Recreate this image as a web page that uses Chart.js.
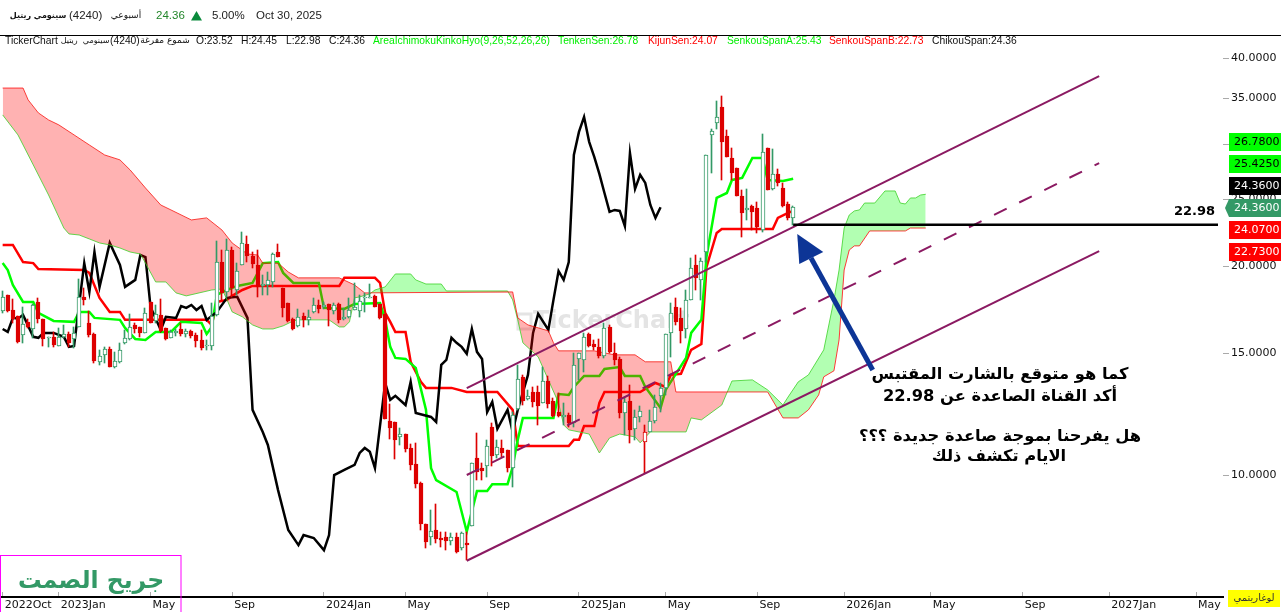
<!DOCTYPE html>
<html lang="ar">
<head>
<meta charset="UTF-8">
<title>TickerChart 4240</title>
<script src="https://cdn.jsdelivr.net/npm/chart.js"></script>
<style>
    html, body { margin: 0; padding: 0; background: #fff; overflow: hidden; }
    canvas { display: block; }
</style>
</head>
<body>
<canvas id="chart" width="1281" height="612"></canvas>
<script>
// weekly candles, one entry per bar
const opens = [17.25,18.20,17.31,16.97,15.93,16.64,16.25,17.78,16.81,15.78,15.83,15.36,15.83,15.98,15.72,16.36,18.08,16.58,15.98,14.57,14.91,15.21,14.32,14.57,15.52,15.72,16.47,16.36,16.04,17.78,16.69,17.03,16.31,15.78,16.04,16.25,15.98,16.15,15.93,15.67,15.36,15.36,17.03,20.30,18.38,21.13,18.50,20.10,21.56,20.71,20.10,18.75,18.81,19.00,20.99,18.62,17.72,16.81,16.42,16.97,16.75,17.20,17.60,17.48,17.66,17.25,17.66,16.81,16.92,17.31,17.25,18.02,18.02,18.14,17.66,17.09,11.97,11.93,11.35,11.46,10.94,10.37,9.74,8.50,8.14,8.33,8.11,8.14,8.03,8.14,7.84,7.97,8.44,10.58,10.23,10.30,11.73,10.69,10.94,10.87,10.23,12.46,13.86,12.88,13.18,13.18,12.71,13.67,12.79,12.33,12.13,12.21,11.89,14.71,14.66,15.98,15.46,15.31,14.86,16.36,15.01,14.71,12.29,12.79,11.66,12.13,11.16,11.54,11.97,13.01,13.36,16.04,17.48,16.86,16.25,17.90,20.10,19.13,20.99,30.98,32.25,34.00,30.88,28.70,27.75,25.29,24.14,24.46,24.30,22.58,29.66,25.89,27.21,25.97,24.62,23.52];
const highs = [18.44,18.20,17.96,16.97,17.48,16.81,17.66,18.02,16.81,15.83,16.09,16.31,16.47,16.09,16.36,19.19,18.62,17.25,16.04,15.16,15.31,15.31,15.06,15.52,16.20,17.09,16.58,16.36,17.43,17.78,17.60,17.96,16.31,16.20,16.25,16.58,16.25,16.20,16.04,16.20,15.67,17.72,21.78,21.13,21.92,21.35,20.23,22.43,22.14,20.99,21.13,19.45,19.64,20.92,21.56,18.62,17.72,16.86,17.37,17.14,17.31,18.02,17.90,17.78,17.66,17.72,17.72,17.43,18.02,18.94,18.20,18.32,18.87,18.20,17.66,17.09,12.67,11.93,11.70,11.46,11.09,11.13,9.77,8.50,8.90,9.08,8.28,8.28,8.25,8.25,8.28,8.28,10.41,11.50,10.41,11.24,11.89,11.24,11.24,10.87,12.33,14.42,13.95,13.27,13.40,13.45,14.32,13.90,12.92,13.14,12.71,12.29,15.01,15.01,16.04,16.04,15.67,15.72,16.58,16.47,15.52,14.81,12.96,13.49,12.42,12.58,11.81,12.42,13.05,13.58,15.98,17.72,18.02,17.43,18.50,20.57,20.78,20.57,28.98,31.60,34.68,35.27,31.50,29.66,27.75,25.80,25.89,24.54,24.78,31.08,29.66,29.57,27.66,26.41,24.78,24.45];
const lows = [17.14,17.20,16.58,15.52,15.52,16.31,15.78,16.58,15.36,15.31,15.31,15.36,15.78,15.31,15.26,16.36,17.60,15.83,14.52,14.42,14.52,14.32,14.28,14.52,15.46,15.67,16.04,15.83,16.04,16.58,16.58,16.09,15.67,15.78,15.88,15.88,15.83,15.78,15.31,15.16,15.16,15.16,16.97,17.90,18.08,18.08,18.20,20.10,20.30,19.90,18.08,18.20,18.20,18.69,20.64,16.92,16.64,16.20,16.36,16.36,16.47,17.14,17.14,17.37,16.42,17.09,16.58,16.75,16.86,17.31,16.92,17.20,18.02,17.48,16.81,12.05,11.28,10.55,11.05,10.80,10.17,9.57,8.33,7.84,7.92,7.97,7.87,7.79,7.92,7.71,7.79,7.54,8.44,9.83,9.83,9.93,10.30,10.58,10.62,10.10,9.60,12.42,12.62,12.84,12.54,11.81,12.71,12.50,12.13,12.13,11.81,11.73,11.73,13.72,14.09,15.31,15.16,14.76,14.76,15.01,14.42,12.09,11.42,11.13,11.24,11.93,10.07,11.54,11.89,12.33,13.05,14.81,16.47,15.52,15.78,17.90,18.50,17.90,20.30,27.30,31.60,26.67,28.79,26.67,25.29,22.06,23.35,22.58,22.36,22.43,25.80,25.80,26.14,24.38,23.35,22.98];
const closes = [18.08,17.25,16.81,15.57,16.53,16.36,17.60,16.81,15.72,15.83,15.41,15.83,15.98,15.52,16.04,18.08,17.90,15.93,14.61,14.86,15.21,14.32,14.61,15.16,15.78,16.36,16.25,16.04,17.14,16.58,17.09,16.15,15.72,16.09,16.15,15.98,16.15,15.88,15.62,15.26,15.41,16.97,20.30,18.32,21.13,18.62,19.70,21.63,20.71,20.17,18.69,18.87,19.13,20.85,20.64,17.43,16.69,16.25,16.92,16.75,16.92,17.60,17.37,17.60,17.31,17.60,16.75,16.92,17.31,17.48,17.84,18.08,18.08,17.48,16.86,12.05,11.70,11.24,11.46,10.90,10.34,9.70,8.50,8.00,8.30,8.08,8.06,8.03,8.14,7.74,8.25,7.92,10.41,10.10,10.13,11.01,10.65,10.98,10.76,10.23,12.21,13.77,12.79,13.01,12.75,12.58,13.67,12.67,12.17,12.17,12.21,11.89,14.42,15.01,15.83,15.36,15.31,14.86,16.31,15.06,14.66,12.29,12.75,11.62,12.13,12.37,11.54,11.97,12.54,13.36,15.98,17.14,16.64,16.15,17.90,19.90,19.26,20.37,28.98,31.40,32.89,30.27,28.79,27.30,25.29,23.90,24.30,23.98,22.81,29.27,25.80,27.21,26.41,24.46,23.51,24.36];
const hollowRedBars = [126];

const tenkanBars = [0,1,2,4,6,7,10,14,15,17,18,23,24,26,28,30,33,35,39,40,41,42,44,46,49,51,54,55,57,62,63,67,69,74,75,76,77,79,81,83,84,85,89,91,93,95,96,99,100,101,102,108,109,111,112,114,117,118,121,122,125,126,129,130,134,135,137,138,140,142,143,145,147,149,150,153,155];
const tenkanValues = [20.23,19.77,18.81,17.78,17.78,17.14,16.69,16.64,17.20,17.20,16.86,16.75,16.31,15.72,15.67,16.09,16.09,16.64,16.58,15.98,16.36,18.20,18.50,18.75,18.94,20.23,20.30,19.58,18.94,18.94,17.43,17.37,17.66,17.72,16.75,15.31,14.76,14.71,14.28,12.42,10.23,9.83,9.45,8.28,9.48,9.48,9.70,9.70,10.27,11.24,12.09,12.09,13.09,13.05,13.40,13.90,13.90,14.23,14.32,13.90,13.90,13.40,12.50,13.27,14.76,16.04,16.75,20.64,25.12,25.54,26.67,26.85,28.70,28.70,26.67,26.58,26.78];

const kijunBars = [0,2,4,6,7,16,17,19,21,23,24,40,41,42,44,45,47,49,66,67,73,74,75,76,77,79,80,82,83,88,91,97,100,101,111,112,113,114,116,117,118,125,128,130,131,133,135,137,138,140,141,151,152,154,155];
const kijunValues = [21.49,21.49,20.30,20.23,19.83,19.77,19.58,18.02,17.20,17.20,16.75,16.75,16.47,17.78,17.90,18.14,18.50,18.75,18.75,19.26,19.26,18.94,17.14,16.64,16.09,16.09,14.57,13.63,13.36,13.36,13.18,13.18,12.42,11.01,11.01,11.24,11.24,11.77,11.77,12.71,13.18,13.18,13.58,13.40,13.95,14.00,15.16,15.46,19.96,22.36,22.66,22.66,23.51,23.90,24.07];

const chikouBars = [0,1,2,3,4,6,7,8,10,12,13,14,16,17,18,19,21,23,24,26,27,28,29,31,32,34,35,36,37,38,39,40,42,44,46,48,49,51,52,54,56,58,59,61,63,64,65,67,69,70,71,72,73,75,76,77,79,80,81,84,85,86,87,88,89,90,91,92,93,94,95,96,97,99,100,101,103,104,105,107,108,109,110,111,112,113,114,115,116,117,118,119,120,121,122,123,124,125,126,127,128,129];
const chikouValues = [16.25,16.09,16.86,16.81,17.03,15.83,15.78,16.04,16.04,15.83,15.31,15.36,20.23,18.38,20.99,18.69,21.63,20.10,18.69,19.13,20.78,20.64,17.48,16.20,16.92,16.86,17.54,17.43,17.60,17.31,17.54,16.75,17.20,18.02,18.08,16.86,12.42,11.54,11.05,9.51,8.33,7.92,8.19,8.11,7.79,8.19,10.00,10.17,10.34,10.76,10.94,10.80,10.23,13.58,12.84,13.01,12.62,13.63,12.29,12.13,11.93,14.42,14.66,15.78,15.52,15.31,14.96,16.25,15.06,14.71,12.33,12.75,11.66,12.42,11.54,12.42,13.95,16.04,17.09,16.20,17.90,19.70,19.13,20.30,28.98,31.29,32.89,30.27,28.79,27.21,25.54,23.98,24.14,24.06,22.88,29.17,25.89,27.12,26.41,24.54,23.51,24.36];

const senkouABars = [0,3,6,9,12,13,15,17,19,21,23,25,27,28,30,32,34,36,41,43,44,45,47,49,51,53,55,57,58,64,66,67,68,69,70,72,73,75,77,80,81,83,86,87,99,100,101,102,105,107,109,110,111,115,117,119,121,124,125,127,134,135,137,141,143,147,150,153,154,156,158,161,163,164,165,166,167,168,169,171,173,175,176,177,178,179,180,181];
const senkouAValues = [33.11,30.98,28.04,25.37,22.73,22.29,22.21,21.92,21.63,21.49,21.27,20.99,20.85,20.23,19.00,19.00,18.32,18.14,18.50,18.56,17.90,17.20,16.92,16.47,16.25,16.25,16.42,16.69,16.75,16.75,16.36,16.36,16.64,18.02,18.08,18.26,18.50,18.69,19.51,19.51,19.13,18.87,18.87,18.44,18.44,17.90,16.75,15.52,14.81,13.72,12.71,11.81,11.62,11.46,10.76,11.31,11.46,11.35,11.13,11.54,11.54,12.09,12.01,12.62,13.67,13.72,13.27,12.62,12.96,13.63,13.95,15.16,17.90,19.77,22.73,23.74,24.06,24.14,24.70,24.70,25.71,25.71,24.70,24.62,25.12,25.12,25.37,25.43];

const senkouBBars = [0,4,5,7,9,11,14,17,20,23,25,28,31,33,37,40,43,45,48,50,51,54,56,58,66,69,71,100,101,103,105,107,108,109,116,120,124,126,131,132,150,153,156,158,160,161,163,164,165,166,167,168,170,177,178,181];
const senkouBValues = [36.20,36.20,34.80,33.33,32.56,32.03,30.98,29.96,28.98,28.51,27.57,25.97,24.54,24.14,23.35,23.51,22.58,21.63,20.85,20.78,20.23,20.23,19.64,19.26,19.26,18.81,18.32,18.38,16.86,16.47,16.31,16.15,15.52,15.11,15.11,14.91,14.91,14.57,14.57,13.18,13.18,12.09,12.09,12.42,13.05,13.86,14.14,15.67,19.77,21.13,21.42,21.42,22.51,22.51,22.73,22.73];

// channel drawn by the author
const channelBars = [91, 215];
const channelUpper = [13.35, 37.67];
const channelMiddle = [10.00, 28.21];
const channelLower = [7.52, 21.05];
const supportBars = [155, 238.3];
const supportValues = [22.98, 22.98];
const arrowBars = [170.6, 158.5];
const arrowValues = [14.18, 20.57];
const arrowHeadBars = [155.8, 160.9, 156.2];
const arrowHeadValues = [22.28, 20.99, 20.17];

// axes
const xTickBars = [0,11,29,45,63,79,95,113,130,148,165,182,200,217,234];
const xTickLabels = ['2022Oct','2023Jan','May','Sep','2024Jan','May','Sep','2025Jan','May','Sep','2026Jan','May','Sep','2027Jan','May'];
const yTickValues = [40,35,30,25,20,15,10];

const GREEN = '#339966';
const RED = '#dd0000';

function pairs(bars, values) {
    return bars.map((b, i) => ({ x: b, y: values[i] }));
}
function line(label, bars, values, color, width, order, extra) {
    return Object.assign({
        type: 'line', label, data: pairs(bars, values), borderColor: color, borderWidth: width,
        pointRadius: 0, tension: 0, fill: false, order
    }, extra || {});
}

const isUp = closes.map((c, i) => c >= opens[i]);
const barColor = isUp.map((up, i) => (up && !hollowRedBars.includes(i)) ? GREEN : RED);
const bodyFill = isUp.map((up, i) => up ? '#ffffff' : RED);

const datasets = [
    line('tenkan', tenkanBars, tenkanValues, '#00ff00', 2.5, 12),
    line('kijun', kijunBars, kijunValues, '#ff0000', 2.5, 12),
    line('chikou', chikouBars, chikouValues, '#000000', 2.5, 11),
    line('senkouB', senkouBBars, senkouBValues, 'rgba(255,0,0,0.75)', 1, 10),
    line('senkouA', senkouABars, senkouAValues, 'rgba(60,210,40,0.8)', 1, 10, {
        fill: { target: 3, above: 'rgba(0,255,0,0.3)', below: 'rgba(255,0,0,0.3)' }
    }),
    {
        type: 'bar', label: 'wicks', order: 6, barThickness: 1, barPercentage: 1, grouped: false,
        data: highs.map((h, i) => ({ x: i, y: [lows[i], h] })),
        backgroundColor: barColor, borderWidth: 0
    },
    {
        type: 'bar', label: 'bodies', order: 5, barThickness: 4, barPercentage: 1, grouped: false, borderSkipped: false,
        data: opens.map((o, i) => ({ x: i, y: [o, closes[i]] })),
        backgroundColor: bodyFill, borderColor: barColor, borderWidth: 1
    },
    line('upper', channelBars, channelUpper, '#8b1a62', 2, 3),
    line('middle', channelBars, channelMiddle, '#8b1a62', 2, 3, { borderDash: [14, 14] }),
    line('lower', channelBars, channelLower, '#8b1a62', 2, 3),
    line('support', supportBars, supportValues, '#000000', 2.5, 2),
    line('arrow', arrowBars, arrowValues, '#0d3596', 5, 1)
];

function text(ctx, str, x, y, font, color, align, dir) {
    ctx.font = font;
    ctx.fillStyle = color;
    ctx.textAlign = align || 'left';
    ctx.direction = dir || 'ltr';
    ctx.textBaseline = 'middle';
    ctx.fillText(str, x, y);
}

// candles sit on whole pixels so the thin wicks stay crisp
const snapCandles = {
    id: 'snapCandles',
    afterDatasetsUpdate(chart) {
        chart.data.datasets.forEach((ds, i) => {
            if (ds.type !== 'bar') return;
            chart.getDatasetMeta(i).data.forEach(el => {
                const c = Math.round(el.x);
                el.x = ds.label === 'wicks' ? c - 0.5 : c;
                el.y = Math.round(el.y);
                el.base = Math.round(el.base);
            });
        });
    }
};

// faint logo behind the candles
const watermark = {
    id: 'watermark',
    beforeDatasetsDraw(chart) {
        const ctx = chart.ctx;
        ctx.save();
        ctx.strokeStyle = '#e4e4e4';
        ctx.lineWidth = 3;
        ctx.strokeRect(518, 314, 13, 15);
        text(ctx, 'TickerChart', 533, 322, 'bold 24px "DejaVu Sans"', '#e4e4e4');
        ctx.restore();
    }
};

// header, price boxes and the notes on the chart
const overlay = {
    id: 'overlay',
    afterDraw(chart) {
        const ctx = chart.ctx;
        const xs = chart.scales.x, ys = chart.scales.y;
        ctx.save();

        // arrow head
        ctx.fillStyle = '#0d3596';
        ctx.beginPath();
        arrowHeadBars.forEach((b, i) => {
            ctx.lineTo(xs.getPixelForValue(b), ys.getPixelForValue(arrowHeadValues[i]));
        });
        ctx.closePath();
        ctx.fill();

        // top lines
        ctx.fillStyle = '#000';
        ctx.fillRect(0, 35, 1281, 1);

        const small = '11.5px "Liberation Sans"';
        text(ctx, 'سينومي ريتيل', 38, 16, 'bold 8px "DejaVu Sans"', '#111', 'center', 'rtl');
        text(ctx, '(4240)', 69, 16, small, '#222');
        text(ctx, 'أسبوعي', 126, 16, '9px "DejaVu Sans"', '#111', 'center', 'rtl');
        text(ctx, '24.36', 156, 16, small, '#22862a');
        ctx.fillStyle = '#0a8a3c';
        ctx.beginPath();
        ctx.moveTo(196.5, 11); ctx.lineTo(202, 20.5); ctx.lineTo(191, 20.5);
        ctx.closePath();
        ctx.fill();
        text(ctx, '5.00%', 212, 16, small, '#222');
        text(ctx, 'Oct 30, 2025', 256, 16, small, '#222');

        const leg = '10.3px "Liberation Sans"';
        text(ctx, 'TickerChart', 5, 41, leg, '#111');
        text(ctx, 'سينومي  ريتيل', 85, 41, '8px "DejaVu Sans"', '#111', 'center', 'rtl');
        text(ctx, '(4240)', 110, 41, leg, '#111');
        text(ctx, 'شموع مفرغة', 165, 41, '9px "DejaVu Sans"', '#111', 'center', 'rtl');
        text(ctx, 'O:23.52', 196, 41, leg, '#111');
        text(ctx, 'H:24.45', 241, 41, leg, '#111');
        text(ctx, 'L:22.98', 286, 41, leg, '#111');
        text(ctx, 'C:24.36', 329, 41, leg, '#111');
        text(ctx, 'AreaIchimokuKinkoHyo(9,26,52,26,26)', 373, 41, leg, '#00ee00');
        text(ctx, 'TenkenSen:26.78', 558, 41, leg, '#00ee00');
        text(ctx, 'KijunSen:24.07', 648, 41, leg, '#ff0000');
        text(ctx, 'SenkouSpanA:25.43', 727, 41, leg, '#00ee00');
        text(ctx, 'SenkouSpanB:22.73', 829, 41, leg, '#ff0000');
        text(ctx, 'ChikouSpan:24.36', 932, 41, leg, '#111');

        // price boxes on the right
        const boxFont = '11px "DejaVu Sans"';
        [['26.7800', 133, '#00ff00', '#000'],
         ['25.4250', 155, '#00ff00', '#000'],
         ['24.3600', 177, '#000000', '#fff'],
         ['24.3600', 199, GREEN, '#fff'],
         ['24.0700', 221, '#ff0000', '#fff'],
         ['22.7300', 243, '#ff0000', '#fff']].forEach(b => {
            ctx.fillStyle = b[2];
            ctx.fillRect(1229, b[1], 52, 18);
            text(ctx, b[0], 1234, b[1] + 9, boxFont, b[3]);
        });
        ctx.fillStyle = GREEN;
        ctx.beginPath();
        ctx.moveTo(1229, 199); ctx.lineTo(1225, 208); ctx.lineTo(1229, 217);
        ctx.closePath();
        ctx.fill();

        // log switch
        ctx.fillStyle = '#ffff00';
        ctx.fillRect(1228, 590, 52, 17);
        text(ctx, 'لوغاريتمي', 1254, 598, '10px "DejaVu Sans"', '#333', 'center', 'rtl');

        // notes
        text(ctx, '22.98', 1174, 212, 'bold 13px "DejaVu Sans"', '#000');
        const note = 'bold 16.3px "DejaVu Sans"';
        text(ctx, 'كما هو متوقع بالشارت المقتبس', 1000, 375, note, '#000', 'center', 'rtl');
        text(ctx, 'أكد القناة الصاعدة عن 22.98', 1000, 397, note, '#000', 'center', 'rtl');
        text(ctx, 'هل يفرحنا بموجة صاعدة جديدة ؟؟؟', 1000, 437, note, '#000', 'center', 'rtl');
        text(ctx, 'الايام تكشف ذلك', 999, 457, note, '#000', 'center', 'rtl');

        // signature box
        ctx.strokeStyle = '#ff00ff';
        ctx.lineWidth = 1;
        ctx.strokeRect(0.5, 555.5, 180.5, 60);
        text(ctx, 'جريح الصمت', 91, 582, 'bold 23.5px "DejaVu Sans"', GREEN, 'center', 'rtl');

        ctx.restore();
    }
};

new Chart(document.getElementById('chart'), {
    type: 'line',
    data: { datasets },
    plugins: [snapCandles, watermark, overlay],
    options: {
        responsive: false,
        animation: false,
        parsing: true,
        layout: { padding: { top: 36, left: 0, right: 0, bottom: 0 } },
        plugins: { legend: { display: false }, tooltip: { enabled: false } },
        scales: {
            x: {
                type: 'linear',
                offset: false,
                min: -0.52,
                max: 239.28,
                afterFit(s) { s.height = 15; s.paddingLeft = 0; s.paddingRight = 0; },
                afterBuildTicks(s) { s.ticks = xTickBars.map(v => ({ value: v })); },
                border: { display: true, color: '#000', width: 2 },
                grid: { drawOnChartArea: false, offset: false, color: '#aaa', tickColor: '#aaa', tickLength: -5 },
                ticks: {
                    autoSkip: false, maxRotation: 0, align: 'start', padding: 7, labelOffset: 2,
                    color: '#111', font: { family: '"DejaVu Sans"', size: 11 },
                    callback(v) { return xTickLabels[xTickBars.indexOf(v)]; }
                }
            },
            y: {
                type: 'logarithmic',
                position: 'right',
                min: 6.666,
                max: 43.04,
                afterFit(s) { s.width = 58; s.paddingTop = 0; s.paddingBottom = 0; },
                afterBuildTicks(s) { s.ticks = yTickValues.map(v => ({ value: v })); },
                border: { display: false },
                grid: { drawOnChartArea: false, color: '#aaa', tickColor: '#aaa', tickLength: 6 },
                ticks: {
                    autoSkip: false, padding: 2, color: '#111',
                    font: { family: '"DejaVu Sans"', size: 11 },
                    callback(v) { return Number(v).toFixed(4); }
                }
            }
        }
    }
});
</script>
</body>
</html>
